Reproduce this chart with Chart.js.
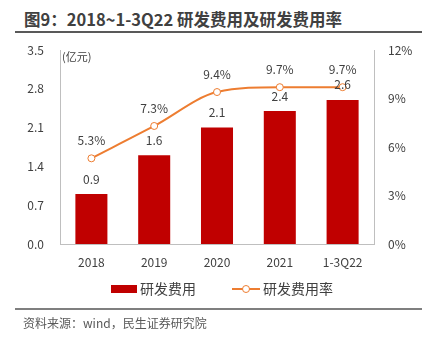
<!DOCTYPE html>
<html>
<head>
<meta charset="utf-8">
<script src="https://cdn.jsdelivr.net/npm/chart.js@4"></script>
<style>
  html, body { margin: 0; padding: 0; background: #fff; }
  #wrap { position: relative; width: 429px; height: 337px; overflow: hidden; font-family: "Noto Sans CJK SC", "Noto Sans", sans-serif; }
  #title { position: absolute; left: 24px; top: 7px; font-size: 16.5px; font-weight: bold; color: #404040; white-space: nowrap; }
  #topLine { position: absolute; left: 15px; top: 31px; width: 407px; height: 2px; background: #595959; }
  #bottomLine { position: absolute; left: 15px; top: 308px; width: 407px; height: 2px; background: #7f7f7f; }
  #source { position: absolute; left: 23px; top: 314px; font-size: 12px; color: #595959; white-space: nowrap; }
  #chart { position: absolute; left: 0; top: 0; }
</style>
</head>
<body>
<div id="wrap">
  <div id="title">图9：2018~1-3Q22 研发费用及研发费用率</div>
  <div id="topLine"></div>
  <canvas id="chart" width="429" height="337"></canvas>
  <div id="bottomLine"></div>
  <div id="source">资料来源：wind，民生证券研究院</div>
</div>
<script>
var categories = ['2018', '2019', '2020', '2021', '1-3Q22'];
var rdExpense = [0.9, 1.6, 2.1, 2.4, 2.6];
var rdRate = [5.3, 7.3, 9.4, 9.7, 9.7];
var leftTicks = [0, 0.7, 1.4, 2.1, 2.8, 3.5];
var rightTicks = [0, 3, 6, 9, 12];

var barColor = '#C00000';
var lineColor = '#ED7D31';
var textColor = '#404040';
var fontFamily = '"Noto Sans CJK SC", "Noto Sans", sans-serif';

// labels above bars and points, plus the unit text and the legend
var extrasPlugin = {
    id: 'extras',
    afterDatasetsDraw: function(chart) {
        var ctx = chart.ctx;
        ctx.save();
        ctx.fillStyle = textColor;
        ctx.font = '12px ' + fontFamily;
        ctx.textAlign = 'center';
        ctx.textBaseline = 'middle';
        var barMeta = chart.getDatasetMeta(1);
        barMeta.data.forEach(function(bar, i) {
            ctx.fillText(rdExpense[i].toFixed(1), bar.x, bar.y - 15);
        });
        var lineMeta = chart.getDatasetMeta(0);
        lineMeta.data.forEach(function(pt, i) {
            ctx.fillText(rdRate[i].toFixed(1) + '%', pt.x, pt.y - 18);
        });

        ctx.font = '11px ' + fontFamily;
        ctx.textAlign = 'left';
        ctx.fillText('(亿元)', chart.chartArea.left + 2, chart.chartArea.top + 7);

        // legend
        var ly = 289;
        ctx.fillStyle = barColor;
        ctx.fillRect(111, ly - 4, 26, 8);
        ctx.fillStyle = textColor;
        ctx.font = '14px ' + fontFamily;
        ctx.fillText('研发费用', 140, ly);

        ctx.strokeStyle = lineColor;
        ctx.lineWidth = 2;
        ctx.beginPath();
        ctx.moveTo(232, ly);
        ctx.lineTo(260, ly);
        ctx.stroke();
        ctx.beginPath();
        ctx.arc(246, ly, 3.5, 0, Math.PI * 2);
        ctx.fillStyle = '#fff';
        ctx.fill();
        ctx.lineWidth = 1;
        ctx.stroke();
        ctx.fillStyle = textColor;
        ctx.fillText('研发费用率', 263, ly);
        ctx.restore();
    }
};

var ctx = document.getElementById('chart');
var chart = new Chart(ctx, {
    type: 'bar',
    data: {
        labels: categories,
        datasets: [
            {
                type: 'line',
                label: '研发费用率',
                data: rdRate,
                yAxisID: 'y1',
                borderColor: lineColor,
                borderWidth: 2,
                backgroundColor: '#fff',
                pointBackgroundColor: '#fff',
                pointBorderColor: lineColor,
                pointBorderWidth: 1,
                pointRadius: 3.5,
                cubicInterpolationMode: 'monotone',
                fill: false,
                order: 0
            },
            {
                type: 'bar',
                label: '研发费用',
                data: rdExpense,
                yAxisID: 'y',
                backgroundColor: barColor,
                categoryPercentage: 1,
                barPercentage: 0.51,
                order: 1
            }
        ]
    },
    options: {
        responsive: false,
        animation: false,
        devicePixelRatio: 1,
        layout: { padding: { top: 50, left: 0, right: 0, bottom: 63 } },
        plugins: {
            legend: { display: false },
            tooltip: { enabled: false }
        },
        scales: {
            x: {
                grid: { display: false, drawTicks: false },
                border: { color: '#BFBFBF', width: 1 },
                ticks: { color: textColor, font: { size: 12, family: fontFamily }, padding: 11, maxRotation: 0 },
                afterFit: function(scale) { scale.height = 30; }
            },
            y: {
                position: 'left',
                min: 0,
                max: 3.5,
                grid: { display: false, drawTicks: false },
                border: { color: '#BFBFBF', width: 1 },
                afterBuildTicks: function(scale) {
                    scale.ticks = leftTicks.map(function(v) { return { value: v }; });
                },
                ticks: {
                    color: textColor,
                    font: { size: 12, family: fontFamily },
                    padding: 16,
                    callback: function(v) { return Number(v).toFixed(1); }
                },
                afterFit: function(scale) { scale.width = 60; }
            },
            y1: {
                position: 'right',
                min: 0,
                max: 12,
                grid: { display: false, drawTicks: false },
                border: { color: '#BFBFBF', width: 1 },
                afterBuildTicks: function(scale) {
                    scale.ticks = rightTicks.map(function(v) { return { value: v }; });
                },
                ticks: {
                    color: textColor,
                    font: { size: 12, family: fontFamily },
                    padding: 14,
                    callback: function(v) { return v + '%'; }
                },
                afterFit: function(scale) { scale.width = 55; }
            }
        }
    },
    plugins: [extrasPlugin]
});
</script>
</body>
</html>
